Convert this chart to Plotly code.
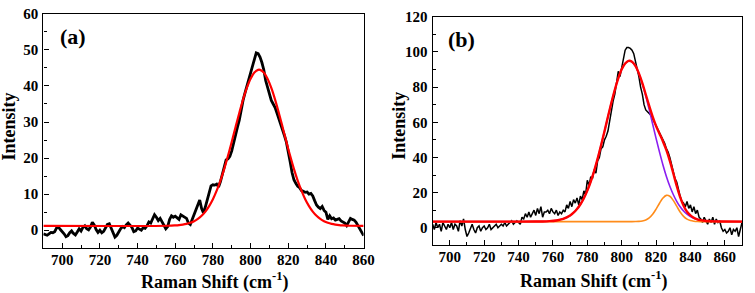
import plotly.graph_objects as go

# ---------------- Panel (a) data ----------------
a_x = list(range(690, 861))
a_y = [
    -1.0, -1.3, -1.4, -1.0, -0.6, -0.7, -0.4, 0.6, 0.9, 0.2,
    -0.3, -1.0, -1.8, -1.5, -0.7, -0.2, -0.9, -1.3, -0.5, 0.4,
    -0.2, 0.8, 1.2, 0.4, 0.1, 0.9, 2.2, 1.5, 0.2, -0.6,
    0.0, -0.7, -0.3, 0.6, 1.6, 1.8, 0.7, -0.8, -1.9, -1.4,
    -0.3, 0.4, 1.0, 0.7, 1.5, 2.0, 1.4, 0.8, -0.4, -0.2,
    0.6, 0.2, 0.0, 0.7, 0.5, 1.2, 2.3, 2.0, 3.2, 4.3,
    3.6, 2.7, 3.3, 2.4, 1.5, 0.4, 1.0, 3.0, 4.0, 3.6,
    3.9, 3.4, 3.0, 4.3, 4.0, 3.6, 3.3, 2.0, 1.6, 3.0,
    4.5, 6.0, 7.5, 8.4, 6.0, 4.8, 6.5, 8.5, 10.5, 12.3,
    12.6, 12.5, 12.8, 12.0, 13.5, 15.5, 17.5, 19.5, 19.8, 20.5,
    22.0, 24.5, 26.5, 28.5, 30.5, 33.5, 36.0, 38.0, 40.0, 42.0,
    44.0, 46.0, 48.0, 49.2, 49.0, 48.0, 46.5, 44.5, 41.5, 39.5,
    37.5, 36.0, 35.0, 34.0, 32.5, 31.0, 29.5, 28.3, 26.2, 24.4,
    22.0, 19.0, 16.0, 14.0, 13.0, 12.2, 11.8, 11.0, 10.8, 10.5,
    10.6, 10.0, 10.2, 9.5, 8.2, 7.0, 6.4, 6.0, 6.6, 5.5,
    5.0, 3.0, 4.0, 3.2, 3.4, 2.8, 3.0, 3.2, 2.6, 2.2,
    2.0, 1.3, 2.2, 3.3, 3.0, 2.8, 2.2, 1.2, 0.5, -0.5,
    -1.5,
]

a_fit_x = [690, 756, 760, 762, 764, 766, 768, 770, 772, 774, 776, 778, 780, 782,
           784, 786, 788, 790, 792, 794, 796, 798, 800, 802, 804,
           805, 807, 809, 811, 813, 815, 817, 819, 821, 823, 825, 827, 829,
           831, 833, 835, 837, 839, 841, 843, 845, 847, 849, 853, 860]
a_fit_y = [1.2, 1.24, 1.33, 1.41, 1.55, 1.75, 2.06, 2.51, 3.14, 4.01, 5.17, 6.69, 8.61, 10.97,
           13.77, 17.02, 20.64, 24.53, 28.55, 32.51, 36.21, 39.44, 42.0, 43.71, 44.47,
           44.47, 43.71, 42.0, 39.44, 36.21, 32.51, 28.55, 24.53, 20.64, 17.02, 13.77, 10.97, 8.61,
           6.69, 5.17, 4.01, 3.14, 2.51, 2.06, 1.75, 1.55, 1.41, 1.33, 1.24, 1.2]

# ---------------- Panel (b) data ----------------
b_x = list(range(690, 871))
b_y = [
    2, -1, 3, 0, 2, -2, 3, 1, -1, 2,
    0, 3, -1, 2, 1, -2, 4, 1, 5, -1,
    -5, -3, 0, 2, -1, -3, 0, 1, -2, 0,
    1, -1, 0, 2, -1, 0, 1, 2, 0, 1,
    2, 1, 3, 1, 2, 3, 4, 2, 3, 4,
    3, 2, 6, 5, 8, 6, 9, 6, 8, 10,
    7, 11, 8, 12, 6, 9, 9, 10, 8, 11,
    9, 8, 10, 7, 9, 8, 10, 9, 13, 11,
    15, 12, 16, 14, 17, 13, 18, 16, 21, 19,
    27, 24, 29, 28, 33, 31, 38, 40, 45, 46,
    50, 52, 55, 61, 68, 72, 76, 83, 89, 86,
    91, 97, 101, 102.5, 102.5, 102, 101, 99, 95, 91,
    86, 80, 76, 70, 67, 66, 65, 64, 62, 60,
    58, 56, 54, 52, 50, 48, 45, 43, 40, 36,
    33, 28, 26, 21, 18, 15, 14, 12, 15, 11,
    13, 9, 12, 8, 10, 6, 5, 3, 6, 4,
    2, 5, 3, 6, 2, 5, 3, 4, 0, -2,
    -1, -3, -2, 0, -4, -1, -2, 0, -5, -1,
    3,
]

b_fit_x = [690, 740, 750, 754, 758, 762, 766, 770, 772, 774, 776, 778, 780, 782, 784,
           786, 788, 790, 792, 794, 796, 798, 800, 802, 804, 806, 808, 810, 812,
           814, 816, 818, 820, 822, 824, 826, 828, 830, 832, 834, 836, 838, 840,
           842, 844, 846, 848, 850, 854, 858, 870]
b_peak1 = [3.5, 3.5, 3.53, 3.58, 3.74, 4.15, 5.07, 6.99, 8.54, 10.63, 13.36, 16.8, 21.1, 26.3, 32.4,
           39.3, 46.9, 54.9, 63.1, 71.1, 78.5, 85.0, 90.1, 93.4, 94.9, 94.4, 92.0, 87.7, 81.9,
           74.9, 67.2, 59.0, 50.8, 43.0, 35.7, 29.2, 23.6, 18.9, 15.0, 11.9, 9.5, 7.7, 6.4,
           5.43, 4.77, 4.31, 4.01, 3.81, 3.61, 3.53, 3.5]
b_peak2 = [3.5, 3.5, 3.5, 3.5, 3.5, 3.5, 3.5, 3.5, 3.5, 3.5, 3.5, 3.5, 3.5, 3.5, 3.5,
           3.5, 3.5, 3.5, 3.5, 3.5, 3.5, 3.5, 3.5, 3.5, 3.5, 3.5, 3.53, 3.62, 3.86,
           4.43, 5.6, 7.65, 10.57, 13.96, 16.9, 18.43, 17.9, 15.56, 12.26, 9.0, 6.5, 4.92, 4.09,
           3.71, 3.55, 3.5, 3.5, 3.5, 3.5, 3.5, 3.5]
b_cumulative = [3.5, 3.5, 3.53, 3.58, 3.74, 4.15, 5.07, 6.99, 8.54, 10.63, 13.36, 16.8, 21.1, 26.3, 32.4,
                39.3, 46.9, 54.9, 63.1, 71.1, 78.5, 85.0, 90.1, 93.4, 94.9, 94.4, 92.0, 87.8, 82.3,
                75.8, 69.3, 63.2, 57.9, 53.5, 49.1, 44.1, 38.0, 31.0, 23.8, 17.4, 12.5, 9.1, 7.0,
                5.64, 4.82, 4.31, 4.01, 3.81, 3.61, 3.53, 3.5]

# ---------------- tick labels ----------------
a_xticks = [700, 720, 740, 760, 780, 800, 820, 840, 860]
a_yticks = [0, 10, 20, 30, 40, 50, 60]
b_xticks = [700, 720, 740, 760, 780, 800, 820, 840, 860]
b_yticks = [0, 20, 40, 60, 80, 100, 120]

FONT = "Times New Roman"
W, H = 755, 293

fig = go.Figure()
fig.add_trace(go.Scatter(x=a_x, y=a_y, mode="lines", line=dict(color="black", width=2.8),
                         xaxis="x", yaxis="y", showlegend=False))
fig.add_trace(go.Scatter(x=a_fit_x, y=a_fit_y, mode="lines", line=dict(color="#ff0000", width=2.2, shape="spline"),
                         xaxis="x", yaxis="y", showlegend=False))

fig.add_trace(go.Scatter(x=b_x, y=b_y, mode="lines", line=dict(color="black", width=1.5),
                         xaxis="x2", yaxis="y2", showlegend=False))
fig.add_trace(go.Scatter(x=b_fit_x, y=b_peak1, mode="lines", line=dict(color="#8a1ef0", width=1.6, shape="spline"),
                         xaxis="x2", yaxis="y2", showlegend=False))
fig.add_trace(go.Scatter(x=b_fit_x, y=b_peak2, mode="lines", line=dict(color="#ff8c1a", width=1.6, shape="spline"),
                         xaxis="x2", yaxis="y2", showlegend=False))
fig.add_trace(go.Scatter(x=b_fit_x, y=b_cumulative, mode="lines", line=dict(color="#ff0000", width=2.4, shape="spline"),
                         xaxis="x2", yaxis="y2", showlegend=False))

def bold(vals):
    return ["<b>%d</b>" % v for v in vals]

def axis_style(**kw):
    d = dict(showline=True, linecolor="black", linewidth=1.3, mirror=True,
             ticks="inside", ticklen=5, tickwidth=1.2, tickcolor="black",
             showgrid=False, zeroline=False, tickmode="array",
             tickfont=dict(family=FONT, size=15, color="black", weight=700))
    d.update(kw)
    return d

fig.update_layout(
    width=W, height=H,
    margin=dict(l=0, r=0, t=0, b=0),
    paper_bgcolor="white", plot_bgcolor="white",
    font=dict(family=FONT, color="black"),
    xaxis=axis_style(domain=[44 / W, 369 / W], range=[690, 860],
                     tickvals=a_xticks, ticktext=bold(a_xticks), ticklabelstandoff=-2,
                     minor=dict(dtick=10, tick0=700, ticklen=3, ticks="inside", tickcolor="black"),
                     anchor="y"),
    yaxis=axis_style(domain=[1 - 247 / H, 1 - 6 / H], range=[-5, 60],
                     tickvals=a_yticks, ticktext=bold(a_yticks), ticklabelstandoff=1,
                     minor=dict(dtick=5, tick0=0, ticklen=3, ticks="inside", tickcolor="black"),
                     anchor="x"),
    xaxis2=axis_style(domain=[439 / W, 753 / W], range=[690, 870],
                      tickvals=b_xticks, ticktext=bold(b_xticks), ticklabelstandoff=-2,
                      minor=dict(dtick=10, tick0=700, ticklen=3, ticks="inside", tickcolor="black"),
                      anchor="y2"),
    yaxis2=axis_style(domain=[1 - 244 / H, 1 - 9 / H], range=[-10, 120],
                      tickvals=b_yticks, ticktext=bold(b_yticks), ticklabelstandoff=1,
                      minor=dict(dtick=10, tick0=0, ticklen=3, ticks="inside", tickcolor="black"),
                      anchor="x2"),
)

tfont = dict(family=FONT, size=18, color="black")
ann = [
    dict(text="<b>(a)</b>", x=74 / W, y=1 - 29 / H, font=dict(family=FONT, size=22, color="black")),
    dict(text="<b>(b)</b>", x=468 / W, y=1 - 32 / H, font=dict(family=FONT, size=22, color="black")),
    dict(text="<b>Raman Shift (cm<sup>-1</sup>)</b>", x=218 / W, y=1 - 281 / H, font=tfont),
    dict(text="<b>Raman Shift (cm<sup>-1</sup>)</b>", x=603 / W, y=1 - 280 / H, font=tfont),
    dict(text="<b>Intensity</b>", x=9 / W, y=1 - 122 / H, textangle=-90, font=tfont),
    dict(text="<b>Intensity</b>", x=405 / W, y=1 - 121 / H, textangle=-90, font=tfont),
]
for a in ann:
    a.update(xref="paper", yref="paper", showarrow=False, xanchor="center", yanchor="middle")
fig.update_layout(annotations=ann)

fig.write_html("out.html", config={"displayModeBar": False},
               post_script="document.body.style.margin='0';document.body.style.padding='0';")
